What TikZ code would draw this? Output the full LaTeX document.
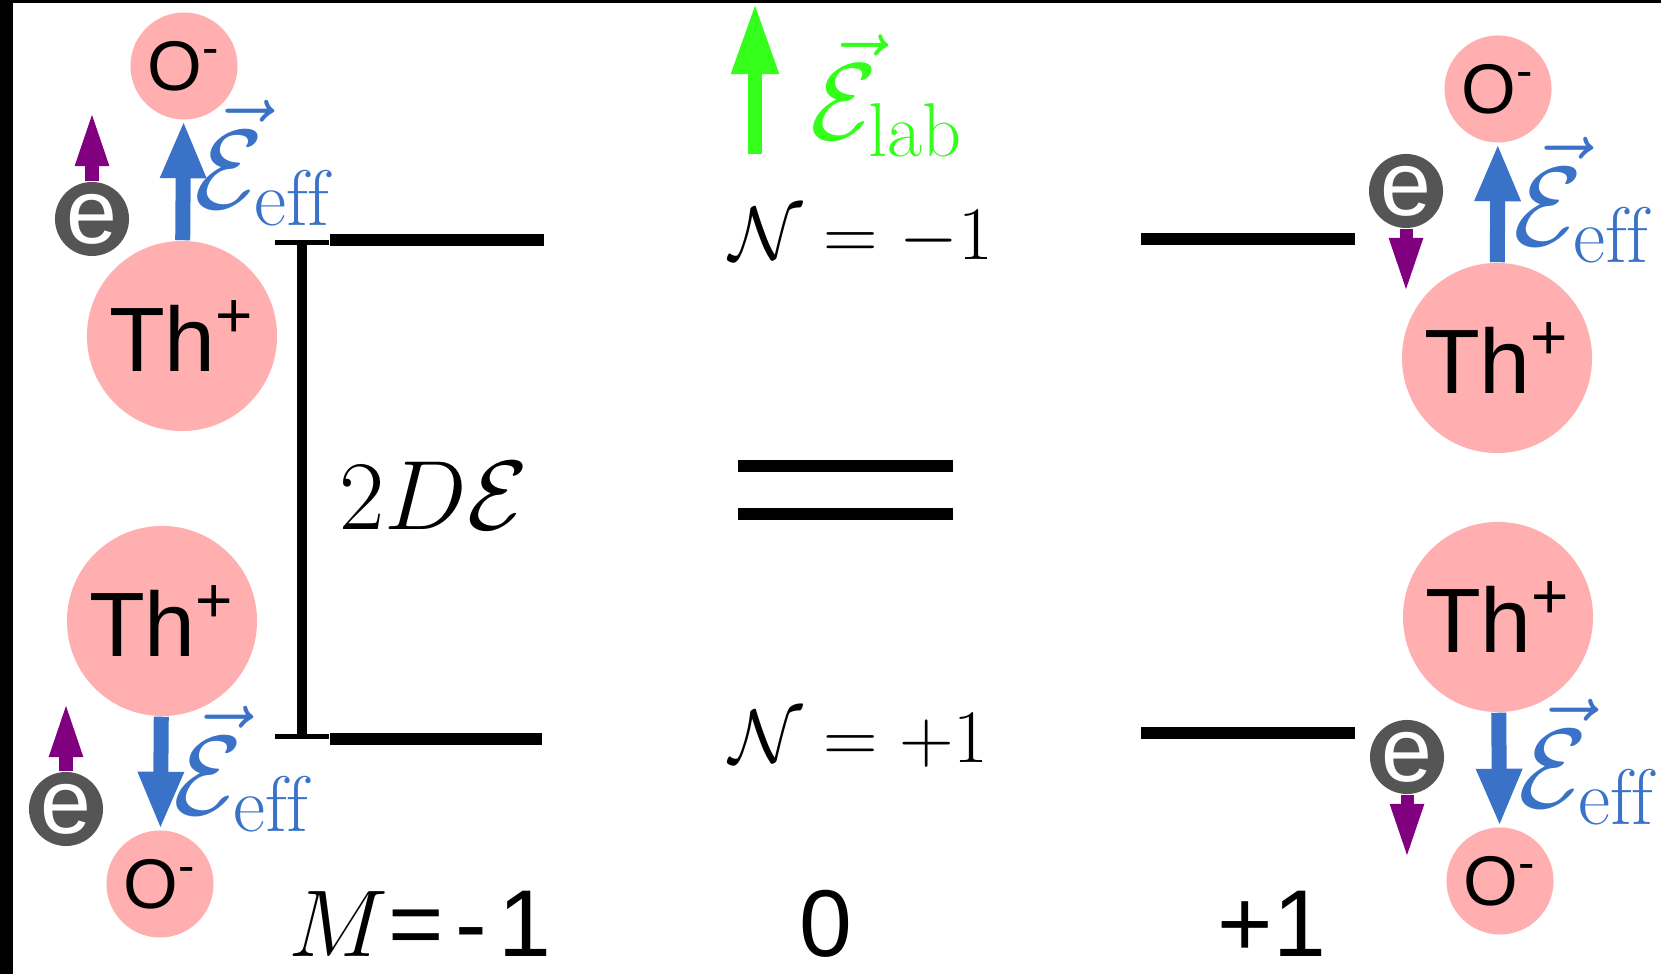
\RequirePackage{fix-cm}
\documentclass[tikz,border=0pt]{standalone}
\usepackage{fontspec}
\setsansfont{Liberation Sans}
\usetikzlibrary{arrows.meta}
\definecolor{ionpink}{RGB}{255,175,175}
\definecolor{effblue}{RGB}{58,114,200}
\definecolor{spinpurple}{RGB}{128,0,128}
\definecolor{labgreen}{RGB}{51,255,26}
\definecolor{egray}{RGB}{85,85,85}
\begin{document}
\begin{tikzpicture}[x=0.01cm,y=-0.01cm,
        thion/.style={circle,fill=ionpink,minimum size=1.9cm,inner sep=0pt,font=\sffamily\fontsize{26}{30}\selectfont},
        oion/.style={circle,fill=ionpink,minimum size=1.07cm,inner sep=0pt,font=\sffamily\fontsize{20}{24}\selectfont},
        elec/.style={circle,fill=egray,text=white,minimum size=0.74cm,inner sep=0pt,font=\sffamily\fontsize{26}{26}\selectfont},
        field/.style={effblue,line width=0.15cm,-{Triangle[width=0.42cm,length=0.58cm]}},
        spin/.style={spinpurple,line width=0.13cm,-{Triangle[width=0.3cm,length=0.56cm]}},
        level/.style={line width=0.12cm},
        efflabel/.style={effblue,anchor=base west,inner sep=0pt,font=\fontsize{32}{32}\selectfont},
        mlabel/.style={anchor=base,inner sep=0pt,font=\sffamily\fontsize{27}{30}\selectfont}]
        \useasboundingbox (0,0) rectangle (1661,974);
        \fill (0,0) rectangle (13,974);
        \fill (0,0) rectangle (1661,3);
        % molecules: Th+ O- pair, electron and its spin
        \foreach \m/\tx/\ty/\ox/\oy/\ex/\ey/\sy/\lx/\ly in {
                1/182/336/184/66/92/219/110/194/209,
                2/162/621/160/884/66/809/701/173/815,
                3/1497/358/1498/89/1406/191/294/1513/246,
                4/1498/617/1500/881/1407/757/860/1518/808} {
                        \node[thion] (th\m) at (\tx,\ty) {Th\textsuperscript{+}};
                        \node[oion] (o\m) at (\ox,\oy) {O\textsuperscript{-}};
                        \node[elec] (e\m) at (\ex,\ey) {e};
                        \coordinate (s\m) at (\ex,\sy);
                        \draw[field] (th\m) -- (o\m);
                        \draw[spin] (e\m) -- (s\m);
                        \node[efflabel] (eff\m) at (\lx,\ly) {$\vec{\mathcal{E}}_{\mathrm{eff}}$};
                }
        % energy levels
        \foreach \xa/\xb/\y in {330/544/240,330/542/739,1141/1355/239,1141/1355/733,738/953/466,738/953/514}
                \draw[level] (\xa,\y) -- (\xb,\y);
        \coordinate (btop) at (302,240);
        \coordinate (bbot) at (302,739);
        \draw[line width=0.1cm,{Bar[width=0.53cm,line width=0.05cm]}-{Bar[width=0.53cm,line width=0.05cm]}] (btop) -- (bbot);
        \node[anchor=base west,inner sep=0pt,font=\fontsize{28}{30}\selectfont] (split) at (339,530) {$2D\mathcal{E}$};
        \node[anchor=base west,inner sep=0pt,font=\fontsize{21.5}{24}\selectfont] (nup) at (729,260) {$\mathcal{N} = -1$};
        \node[anchor=base west,inner sep=0pt,font=\fontsize{21.5}{24}\selectfont] (ndown) at (729,763) {$\mathcal{N} = +1$};
        % lab field
        \coordinate (gbot) at (755,154);
        \coordinate (gtop) at (755,3);
        \draw[labgreen,line width=0.14cm,-{Triangle[width=0.44cm,length=0.71cm]}] (gbot) -- (gtop);
        \node[anchor=base west,inner sep=0pt,text=labgreen,font=\fontsize{31}{32}\selectfont] (lab) at (810,140) {$\vec{\mathcal{E}}_{\mathrm{lab}}$};
        % M values
        \node[mlabel,anchor=base west] (mm) at (288,957) {$M${\addfontfeature{LetterSpace=12}=-1}};
        \node[mlabel] (m0) at (826,957) {0};
        \node[mlabel] (mp) at (1272,957) {{\addfontfeature{LetterSpace=12}+}1};
\end{tikzpicture}
\end{document}
